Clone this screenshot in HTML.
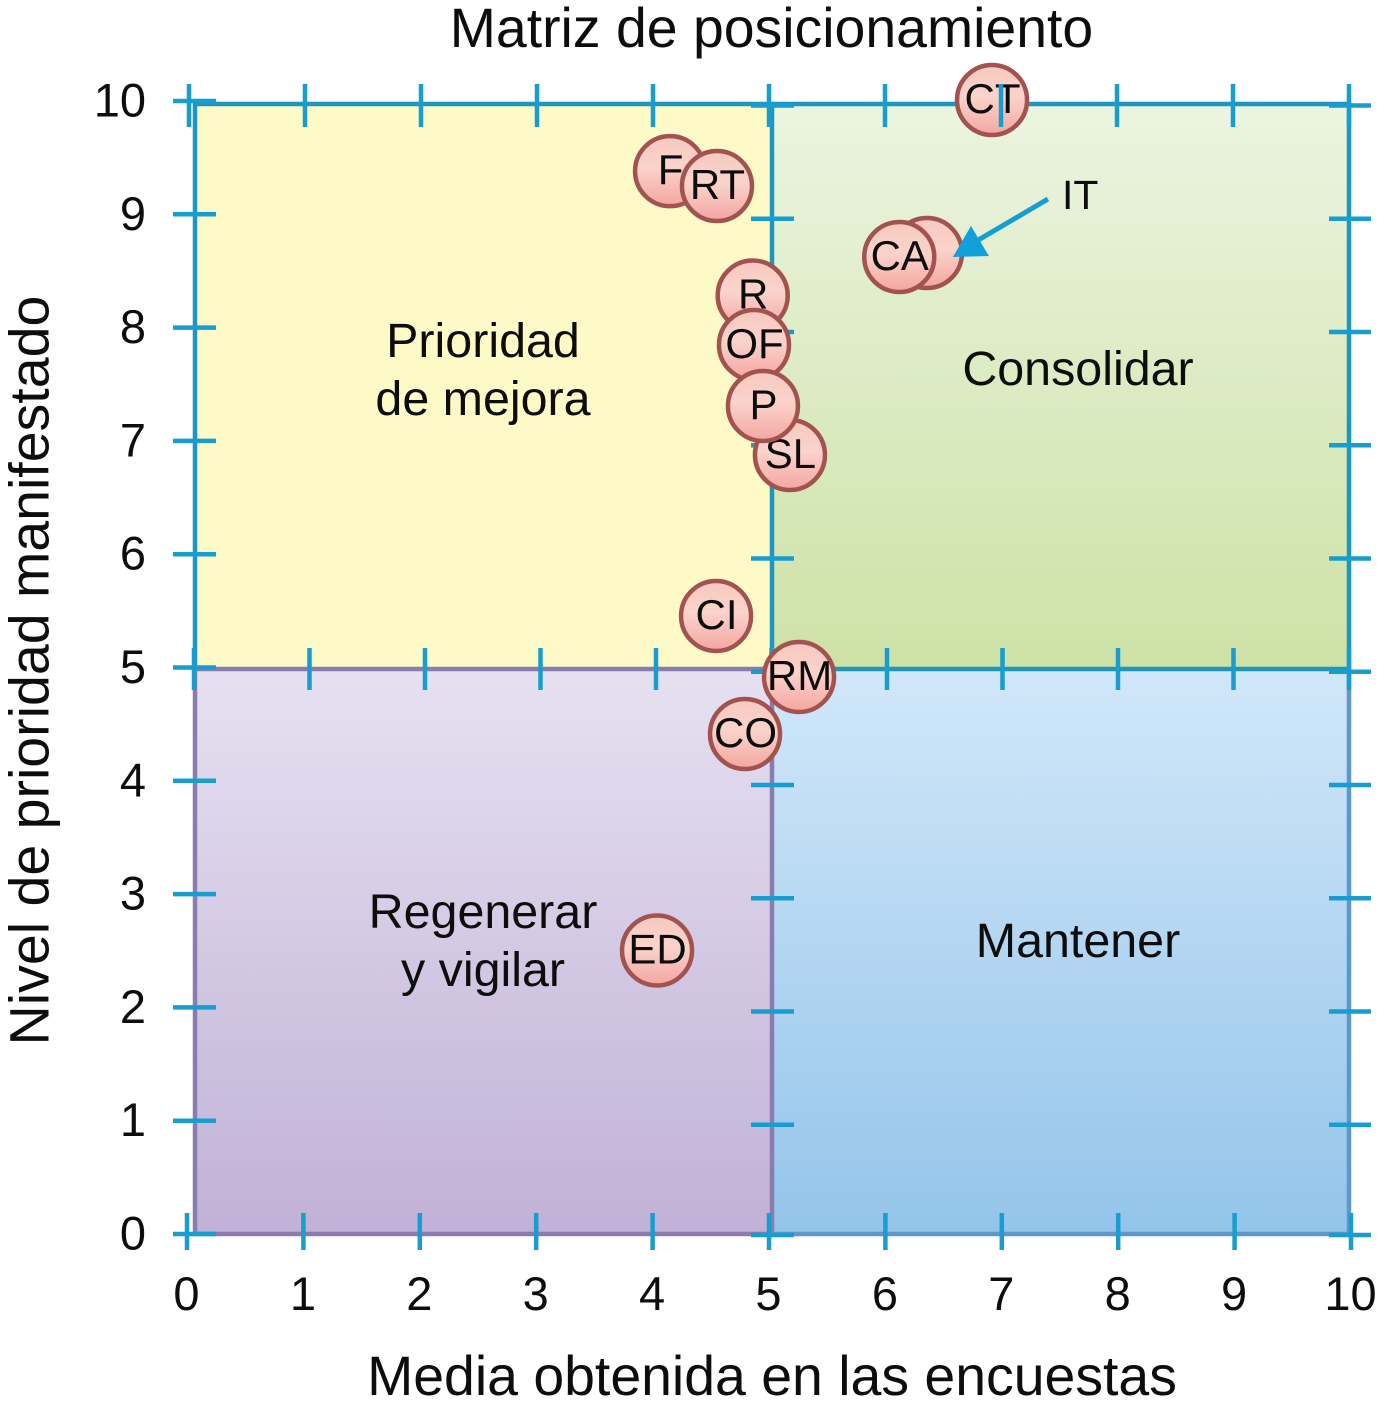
<!DOCTYPE html>
<html lang="es">
<head>
<meta charset="utf-8">
<title>Matriz de posicionamiento</title>
<style>
html,body{margin:0;padding:0;background:#fff;}
svg{display:block;font-family:"Liberation Sans",Arial,sans-serif;fill:#0d0d0d;}
</style>
</head>
<body>
<svg id="chart" width="1377" height="1423" viewBox="0 0 1377 1423" xmlns="http://www.w3.org/2000/svg">
  <defs>
    <linearGradient id="gGreen" x1="0" y1="0" x2="0" y2="1"><stop offset="0" stop-color="#EBF4E0"/><stop offset="1" stop-color="#CDE2A6"/></linearGradient>
    <linearGradient id="gPurple" x1="0" y1="0" x2="0" y2="1"><stop offset="0" stop-color="#E6E1F1"/><stop offset="1" stop-color="#C1B1D6"/></linearGradient>
    <linearGradient id="gBlue" x1="0" y1="0" x2="0" y2="1"><stop offset="0" stop-color="#D1E7F9"/><stop offset="1" stop-color="#94C4EA"/></linearGradient>
    <linearGradient id="gBubble" x1="0" y1="0" x2="0" y2="1"><stop offset="0" stop-color="#F7C9BF"/><stop offset="0.45" stop-color="#FAD3CB"/><stop offset="1" stop-color="#F4A6A0"/></linearGradient>
  </defs>

  <text x="771.5" y="47" font-size="55.4" text-anchor="middle">Matriz de posicionamiento</text>

  <g>
    <rect x="195" y="104" width="577" height="565" fill="#FDFAC8"/>
    <rect x="772" y="104" width="577" height="565" fill="url(#gGreen)"/>
    <rect x="195" y="669" width="577" height="565" fill="url(#gPurple)"/>
    <rect x="772" y="669" width="577" height="565" fill="url(#gBlue)"/>
    <path d="M195 669V1234H772V669H195Z" fill="none" stroke="#8A7CAE" stroke-width="4.5"/>
    <path d="M772 1234H1349V669" fill="none" stroke="#5D98CB" stroke-width="4.5"/>
    <path d="M195 669V104H772V669" fill="none" stroke="#1E96BE" stroke-width="4.5"/>
    <path d="M772 104H1349V669H772" fill="none" stroke="#1E96BE" stroke-width="4.5"/>
  </g>

  <g id="tickLayer"></g>

  <g font-size="48.4" text-anchor="middle">
    <text x="483"><tspan x="483" y="357">Prioridad</tspan><tspan x="483" y="415">de mejora</tspan></text>
    <text x="1078" y="385">Consolidar</text>
    <text x="483"><tspan x="483" y="928">Regenerar</tspan><tspan x="483" y="986">y vigilar</tspan></text>
    <text x="1078" y="957">Mantener</text>
  </g>

  <g id="bubbleLayer"></g>
  <g id="annotationLayer"></g>
  <g id="topTickLayer"></g>
  <g id="labelLayer" font-size="47"></g>

  <text x="772" y="1395" font-size="55.4" text-anchor="middle">Media obtenida en las encuestas</text>
  <text transform="translate(48.5 670.5) rotate(-90)" font-size="55.5" text-anchor="middle">Nivel de prioridad manifestado</text>
</svg>
<script>
const xTickValues = [0, 1, 2, 3, 4, 5, 6, 7, 8, 9, 10];
const yTickValues = [0, 1, 2, 3, 4, 5, 6, 7, 8, 9, 10];
const xTickLabels = ['0', '1', '2', '3', '4', '5', '6', '7', '8', '9', '10'];
const yTickLabels = ['0', '1', '2', '3', '4', '5', '6', '7', '8', '9', '10'];
const pointNames = ['IT', 'CA', 'F', 'RT', 'CT', 'R', 'SL', 'OF', 'P', 'CI', 'RM', 'CO', 'ED'];
const pointScores = [6.357, 6.119, 4.15, 4.553, 6.916, 4.86, 5.18, 4.871, 4.948, 4.545, 5.258, 4.794, 4.038];
const pointPriorities = [8.657, 8.622, 9.38, 9.249, 10.009, 8.282, 6.873, 7.845, 7.306, 5.451, 4.912, 4.408, 2.496];
const calloutName = 'IT';

const NS = 'http://www.w3.org/2000/svg';
const xScale = v => 187 + 116.4 * v;
const yScale = v => 1233 - 113.2 * v;
const xTop = v => 189 + 116 * v;
const xMid = v => 194 + 115.5 * v;
const yLeft = v => 1234 - 113.3 * v;
const yInner = v => Math.max(102.5, Math.min(1235, 1238 - 113.25 * v));

function mk(tag, attrs, parent) {
  const el = document.createElementNS(NS, tag);
  for (const k in attrs) el.setAttribute(k, attrs[k]);
  parent.appendChild(el);
  return el;
}
function tick(parent, x1, y1, x2, y2, name) {
  const el = mk('line', {x1, y1, x2, y2, stroke: '#179DCF', 'stroke-width': 4.5}, parent);
  
  
}
const tickLayer = document.getElementById('tickLayer');
const topTickLayer = document.getElementById('topTickLayer');
const labelLayer = document.getElementById('labelLayer');
const bubbleLayer = document.getElementById('bubbleLayer');
const annotationLayer = document.getElementById('annotationLayer');

yTickValues.forEach(v => {
  tick(tickLayer, 173, yLeft(v), 216, yLeft(v), 'y-tick-left-' + v);
  tick(tickLayer, 751, yInner(v), 794, yInner(v), 'y-tick-center-' + v);
  tick(tickLayer, 1329, yInner(v), 1371, yInner(v), 'y-tick-right-' + v);
});
xTickValues.forEach(v => {
  tick(tickLayer, xScale(v), 1213, xScale(v), 1250, 'x-tick-bottom-' + v);
  tick(tickLayer, xMid(v), 648, xMid(v), 690, 'x-tick-middle-' + v);
  tick(topTickLayer, xTop(v), 84, xTop(v), 127, 'x-tick-top-' + v);
});

xTickValues.forEach((v, i) => {
  const t = mk('text', {x: xScale(v) - 0.5, y: 1310, 'text-anchor': 'middle'}, labelLayer);
  
  
  t.textContent = xTickLabels[i];
});
yTickValues.forEach((v, i) => {
  const t = mk('text', {x: 146, y: yLeft(v) + 15.5, 'text-anchor': 'end'}, labelLayer);
  
  
  t.textContent = yTickLabels[i];
});

pointNames.forEach((name, i) => {
  const cx = xScale(pointScores[i]);
  const cy = yScale(pointPriorities[i]);
  const g = mk('g', {}, bubbleLayer);
  
  
  mk('circle', {cx, cy, r: 35, fill: 'url(#gBubble)', stroke: '#A2534F', 'stroke-width': 4.5}, g);
  if (name !== calloutName) {
    const t = mk('text', {x: cx + 0.5, y: cy + 13, 'text-anchor': 'middle', 'font-size': 42}, g);
    t.textContent = name;
  }
});

const ci = pointNames.indexOf(calloutName);
const ax = xScale(pointScores[ci]);
const ay = yScale(pointPriorities[ci]);
const shaft = mk('line', {x1: ax + 121, y1: ay - 54, x2: ax + 48, y2: ay - 11, stroke: '#179DCF', 'stroke-width': 5}, annotationLayer);


const head = mk('polygon', {points: `${ax + 26},${ay + 4} ${ax + 44},${ay - 27} ${ax + 62},${ay + 3}`, fill: '#12A0DB'}, annotationLayer);


const itLabel = mk('text', {x: ax + 135, y: ay - 44, 'font-size': 41}, annotationLayer);


itLabel.textContent = calloutName;
</script>
</body>
</html>
